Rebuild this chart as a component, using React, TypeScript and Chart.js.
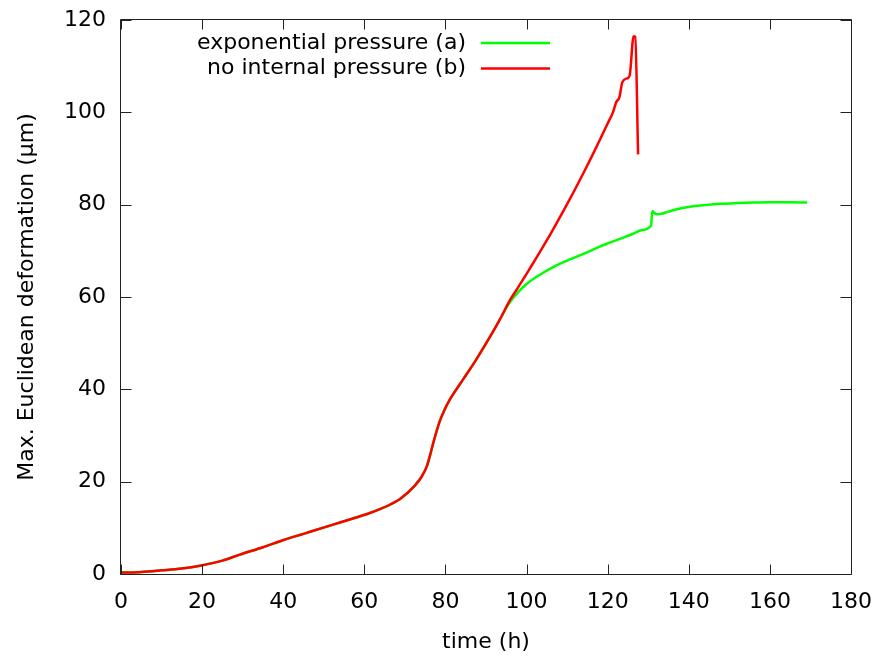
import { useEffect, useRef } from "react";
import { Chart, registerables } from "chart.js";

Chart.register(...registerables);

// Shared part of both runs (curves coincide up to ~94 h)
const sharedTime = [0, 5, 10, 15, 19.5, 25, 29.3, 35, 39.9, 45, 52.3, 56, 60.7, 64, 66.3, 69.2, 72.5, 74, 75.4, 76.2, 77, 78.6, 79.8, 81.1, 84.4, 87.7, 90.6, 93.4];
const sharedDeformation = [0.3, 0.45, 0.8, 1.2, 1.8, 2.9, 4.2, 5.8, 7.3, 8.7, 10.7, 11.7, 13.0, 14.1, 15.0, 16.5, 19.2, 20.9, 23.3, 25.7, 28.4, 33.1, 35.6, 37.8, 42.2, 46.6, 50.8, 55.1];

// (a) exponential pressure, after divergence
const expTime = [95.9, 98, 100, 102, 104, 106, 108, 110, 112, 115, 118, 120, 123, 126, 128.5, 130.7, 131.0, 131.5, 132.2, 133.2, 135, 137, 140, 144, 148, 152, 156, 160, 165, 169.2];
const expDeformation = [58.9, 61.1, 62.8, 64.1, 65.2, 66.2, 67.1, 67.9, 68.6, 69.7, 70.9, 71.6, 72.6, 73.6, 74.5, 75.5, 78.6, 78.2, 77.9, 78.0, 78.5, 79.0, 79.5, 79.9, 80.2, 80.35, 80.45, 80.5, 80.5, 80.45];

// (b) no internal pressure, after divergence
const noPressTime = [95.9, 98, 100, 102, 104, 106, 108, 110, 112, 114, 116, 118, 120, 121.3, 122.1, 122.9, 123.6, 124.6, 125.4, 126.4, 126.8, 127.5];
const noPressDeformation = [59.3, 62.2, 65.0, 67.9, 70.8, 73.8, 76.9, 80.1, 83.4, 86.8, 90.3, 93.9, 97.6, 100.0, 102.2, 103.3, 106.5, 107.3, 107.9, 116.5, 116.4, 90.9];

const seriesLabels = ["exponential pressure (a)", "no internal pressure (b)"];
const seriesColors = ["#00ff00", "#ff0000"];

const xTitle = "time (h)";
const yTitle = "Max. Euclidean deformation (\u03bcm)";

const FONT = "'DejaVu Sans', sans-serif";
const FONT_SIZE = 22;

const toPoints = (t: number[], v: number[]) => t.map((x, i) => ({ x, y: v[i] }));

const framePlugin = {
  id: "gnuplotFrame",
  afterDraw(chart: any) {
    const { ctx, chartArea, scales } = chart;
    const { left, right, top, bottom } = chartArea;
    const xs = scales.x;
    const ys = scales.y;
    ctx.save();
    ctx.strokeStyle = "#222";
    ctx.lineWidth = 1;
    ctx.beginPath();
    const L = Math.round(left) - 0.5;
    const R = Math.round(right) + 0.5;
    const T = Math.round(top) - 0.5;
    const B = Math.round(bottom) + 0.5;
    ctx.rect(L, T, R - L, B - T);
    for (const t of xs.ticks) {
      const px = Math.round(xs.getPixelForValue(t.value)) + 0.5;
      ctx.moveTo(px, B);
      ctx.lineTo(px, B - 10);
      ctx.moveTo(px, T);
      ctx.lineTo(px, T + 10);
    }
    for (const t of ys.ticks) {
      const py = Math.round(ys.getPixelForValue(t.value)) + 0.5;
      ctx.moveTo(L, py);
      ctx.lineTo(L + 11, py);
      ctx.moveTo(R, py);
      ctx.lineTo(R - 11, py);
    }
    ctx.stroke();

    // legend (gnuplot style: right-aligned text, sample line on the right)
    ctx.font = `${FONT_SIZE}px ${FONT}`;
    ctx.textAlign = "right";
    ctx.textBaseline = "middle";
    const rowsY = [43, 68.5];
    for (let i = 0; i < seriesLabels.length; i++) {
      ctx.fillStyle = "#000";
      ctx.fillText(seriesLabels[i], 466, rowsY[i]);
      ctx.strokeStyle = seriesColors[i];
      ctx.lineWidth = 2.5;
      ctx.beginPath();
      ctx.moveTo(481, rowsY[i]);
      ctx.lineTo(550, rowsY[i]);
      ctx.stroke();
    }
    ctx.restore();
  },
};

export default function App() {
  const ref = useRef<HTMLCanvasElement>(null);
  useEffect(() => {
    const canvas = ref.current!;
    const expData = toPoints([...sharedTime, ...expTime], [...sharedDeformation, ...expDeformation]);
    const noPressData = toPoints([...sharedTime, ...noPressTime], [...sharedDeformation, ...noPressDeformation]);
    const tickFont = { family: FONT, size: FONT_SIZE };
    const chart = new Chart(canvas, {
      type: "line",
      data: {
        datasets: [
          {
            label: seriesLabels[1],
            data: noPressData,
            borderColor: seriesColors[1],
            borderWidth: 2.5,
            pointRadius: 0,
            cubicInterpolationMode: "monotone",
            fill: false,
          },
          {
            label: seriesLabels[0],
            data: expData,
            borderColor: seriesColors[0],
            borderWidth: 2.5,
            pointRadius: 0,
            cubicInterpolationMode: "monotone",
            fill: false,
          },
        ],
      },
      options: {
        responsive: false,
        animation: false,
        devicePixelRatio: 1,
        layout: { padding: { left: 0, top: 20, right: 32, bottom: 0 } },
        plugins: { legend: { display: false }, tooltip: { enabled: false } },
        scales: {
          x: {
            type: "linear",
            min: 0,
            max: 180,
            ticks: { stepSize: 20, font: tickFont, color: "#000", padding: 15, maxRotation: 0 },
            grid: { display: false, drawTicks: false },
            border: { display: false },
            title: { display: true, text: xTitle, font: tickFont, color: "#000", padding: { top: 0, bottom: 1 } },
            afterFit: (s: any) => {
              s.height = 82;
              s.paddingLeft = 0;
              s.paddingRight = 0;
            },
          },
          y: {
            type: "linear",
            min: 0,
            max: 120,
            ticks: { stepSize: 20, font: tickFont, color: "#000", padding: 15 },
            grid: { display: false, drawTicks: false },
            border: { display: false },
            title: { display: true, text: yTitle, font: tickFont, color: "#000", padding: { top: 14, bottom: 0 } },
            afterFit: (s: any) => {
              s.width = 121;
              s.paddingTop = 0;
              s.paddingBottom = 0;
            },
          },
        },
      },
      plugins: [framePlugin],
    } as any);
    return () => chart.destroy();
  }, []);
  return (
    <div style={{ position: "absolute", left: 0, top: 0, width: 883, height: 656, background: "#fff" }}>
      <canvas ref={ref} width={883} height={656} style={{ display: "block" }} />
    </div>
  );
}
